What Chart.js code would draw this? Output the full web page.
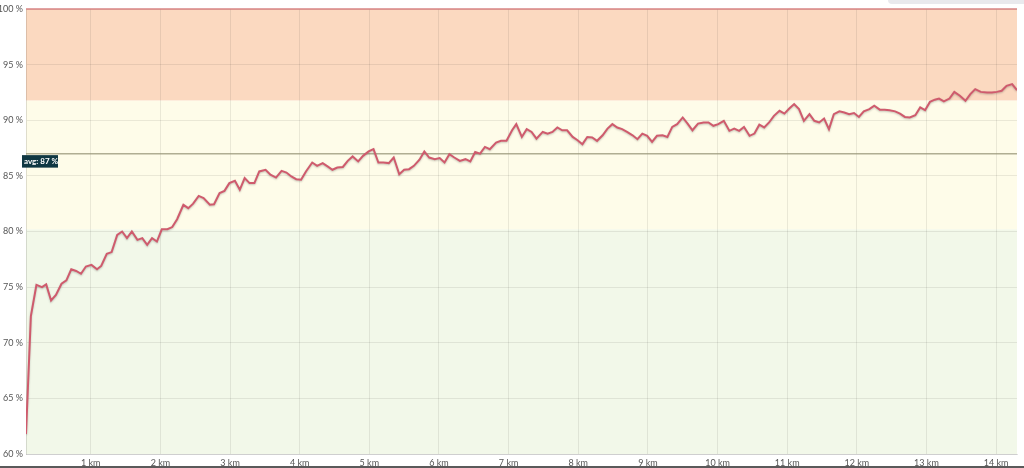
<!DOCTYPE html>
<html>
<head>
<meta charset="utf-8">
<script src="https://cdn.jsdelivr.net/npm/chart.js@4/dist/chart.umd.min.js"></script>
<style>
  html, body { margin: 0; padding: 0; background: #fff; }
  #wrap { position: relative; width: 1024px; height: 468px; }
  #topbar { position: absolute; right: 0; top: 0; width: 136px; height: 4px; background: #e9e9ed; border-bottom-left-radius: 4px; }
</style>
</head>
<body>
<div id="wrap">
  <canvas id="chart"></canvas>
  <div id="topbar"></div>
</div>
<script>
// distance along the route (km) and the value at that point (%)
const distances = [
  0.07, 0.14, 0.22, 0.30, 0.36, 0.43, 0.50, 0.58, 0.65, 0.72, 0.79, 0.86, 0.93, 1.01, 1.09, 1.15, 1.23, 1.30, 1.38, 1.45,
  1.52, 1.59, 1.67, 1.74, 1.81, 1.88, 1.95, 2.02, 2.10, 2.17, 2.24, 2.33, 2.40, 2.47, 2.55, 2.62, 2.71, 2.77, 2.85, 2.92,
  2.99, 3.07, 3.14, 3.21, 3.28, 3.35, 3.42, 3.51, 3.58, 3.66, 3.74, 3.81, 3.88, 3.95, 4.02, 4.09, 4.18, 4.25, 4.33, 4.40,
  4.47, 4.54, 4.62, 4.69, 4.76, 4.84, 4.91, 4.99, 5.06, 5.13, 5.20, 5.28, 5.35, 5.43, 5.50, 5.57, 5.64, 5.72, 5.79, 5.86,
  5.94, 6.01, 6.08, 6.15, 6.22, 6.30, 6.38, 6.45, 6.52, 6.59, 6.66, 6.73, 6.82, 6.89, 6.97, 7.05, 7.11, 7.19, 7.26, 7.33,
  7.40, 7.49, 7.56, 7.63, 7.70, 7.77, 7.84, 7.92, 7.99, 8.06, 8.13, 8.20, 8.27, 8.35, 8.42, 8.49, 8.56, 8.63, 8.70, 8.78,
  8.85, 8.92, 8.99, 9.06, 9.13, 9.21, 9.28, 9.35, 9.42, 9.50, 9.57, 9.64, 9.72, 9.80, 9.87, 9.94, 10.01, 10.09, 10.17, 10.24,
  10.31, 10.38, 10.46, 10.53, 10.60, 10.67, 10.74, 10.81, 10.89, 10.96, 11.03, 11.10, 11.17, 11.24, 11.32, 11.39, 11.46, 11.53, 11.60, 11.67,
  11.75, 11.82, 11.89, 11.96, 12.03, 12.10, 12.18, 12.25, 12.33, 12.40, 12.47, 12.55, 12.62, 12.69, 12.76, 12.84, 12.91, 12.98, 13.05, 13.12,
  13.18, 13.25, 13.33, 13.40, 13.48, 13.56, 13.63, 13.70, 13.78, 13.87, 13.94, 14.01, 14.08, 14.15, 14.23, 14.30
];
const values = [
  61.8, 72.4, 75.2, 75.0, 75.25, 73.8, 74.3, 75.3, 75.6, 76.6, 76.45, 76.2, 76.85, 77.0, 76.6, 76.9, 78.0, 78.15, 79.7, 80.0,
  79.4, 80.0, 79.25, 79.4, 78.8, 79.4, 79.1, 80.2, 80.2, 80.4, 81.1, 82.4, 82.1, 82.5, 83.2, 83.0, 82.4, 82.45, 83.45, 83.65,
  84.35, 84.55, 83.75, 84.8, 84.35, 84.35, 85.4, 85.55, 85.1, 84.85, 85.45, 85.3, 84.95, 84.7, 84.65, 85.4, 86.2, 85.9, 86.15, 85.85,
  85.55, 85.75, 85.8, 86.35, 86.75, 86.3, 86.8, 87.2, 87.4, 86.2, 86.2, 86.15, 86.65, 85.15, 85.55, 85.6, 85.9, 86.45, 87.2, 86.65,
  86.5, 86.6, 86.2, 86.95, 86.65, 86.35, 86.5, 86.3, 87.15, 87.0, 87.6, 87.4, 88.0, 88.15, 88.15, 89.1, 89.65, 88.5, 89.2, 88.95,
  88.35, 88.95, 88.8, 88.95, 89.35, 89.1, 89.1, 88.5, 88.2, 87.85, 88.5, 88.45, 88.15, 88.65, 89.25, 89.65, 89.35, 89.2, 88.95, 88.65,
  88.3, 88.8, 88.6, 88.05, 88.6, 88.65, 88.5, 89.4, 89.65, 90.25, 89.7, 89.1, 89.7, 89.8, 89.8, 89.5, 89.65, 89.95, 89.05, 89.25,
  89.05, 89.4, 88.6, 88.8, 89.6, 89.35, 89.8, 90.4, 90.85, 90.6, 91.05, 91.45, 91.0, 89.95, 90.55, 89.95, 89.8, 90.15, 89.2, 90.55,
  90.8, 90.7, 90.55, 90.65, 90.3, 90.8, 91.0, 91.3, 90.95, 90.95, 90.9, 90.8, 90.6, 90.3, 90.25, 90.45, 91.15, 90.9, 91.65, 91.85,
  91.95, 91.7, 91.95, 92.55, 92.2, 91.75, 92.35, 92.8, 92.55, 92.5, 92.5, 92.55, 92.65, 93.1, 93.25, 92.7
];
const xTicks = [1, 2, 3, 4, 5, 6, 7, 8, 9, 10, 11, 12, 13, 14];
const yTicks = [60, 65, 70, 75, 80, 85, 90, 95, 100];
const zoneLimits = [60, 80.2, 91.78, 100];
const zoneColors = ['#f2f8e9', '#fefce9', '#fbd9c0'];
const avgValue = 87;

const zonesPlugin = {
  id: 'zones',
  beforeDraw(chart) {
    const { ctx, chartArea: a, scales: { y } } = chart;
    ctx.save();
    for (let i = 0; i < zoneColors.length; i++) {
      const top = y.getPixelForValue(zoneLimits[i + 1]);
      const bottom = y.getPixelForValue(zoneLimits[i]);
      ctx.fillStyle = zoneColors[i];
      ctx.fillRect(a.left, top, a.right - a.left, bottom - top);
    }
    ctx.restore();
  },
  beforeDatasetsDraw(chart) {
    const { ctx, chartArea: a, scales: { y } } = chart;
    ctx.save();
    // average line
    const ay = y.getPixelForValue(avgValue);
    ctx.strokeStyle = 'rgba(150,148,118,0.75)';
    ctx.lineWidth = 1.5;
    ctx.beginPath();
    ctx.moveTo(a.left, ay);
    ctx.lineTo(a.right, ay);
    ctx.stroke();
    // top line at 100 %
    const ty = y.getPixelForValue(100);
    ctx.strokeStyle = '#d98585';
    ctx.lineWidth = 1.5;
    ctx.beginPath();
    ctx.moveTo(a.left, ty);
    ctx.lineTo(a.right, ty);
    ctx.stroke();
    ctx.restore();
  },
  beforeDatasetDraw(chart) {
    const ctx = chart.ctx;
    ctx.save();
    ctx.shadowColor = 'rgba(0,0,0,0.22)';
    ctx.shadowBlur = 2;
    ctx.shadowOffsetY = 1;
  },
  afterDatasetDraw(chart) {
    chart.ctx.restore();
  },
  afterDraw(chart) {
    const { ctx, scales: { y } } = chart;
    ctx.save();
    // avg label
    const ay = y.getPixelForValue(avgValue);
    ctx.fillStyle = '#0f3742';
    ctx.fillRect(22, ay + 1.5, 36, 12.5);
    ctx.fillStyle = '#ffffff';
    ctx.font = 'bold 8px Lato';
    ctx.textBaseline = 'middle';
    ctx.textAlign = 'left';
    ctx.fillText('avg: ' + avgValue + ' %', 24, ay + 8);
    // bottom border
    ctx.fillStyle = '#5a5a5a';
    ctx.fillRect(0, chart.height - 2, chart.width, 2);
    ctx.restore();
  }
};

new Chart(document.getElementById('chart'), {
  type: 'line',
  data: {
    datasets: [{
      data: distances.map((d, i) => ({ x: d, y: values[i] })),
      borderColor: '#cf5b6d',
      borderWidth: 2,
      pointRadius: 0,
      tension: 0,
      fill: false
    }]
  },
  options: {
    responsive: true,
    maintainAspectRatio: false,
    animation: false,
    layout: { padding: { top: 9, right: 7, left: 0, bottom: 0 } },
    plugins: { legend: { display: false }, tooltip: { enabled: false } },
    scales: {
      x: {
        type: 'linear',
        min: distances[0],
        max: distances[distances.length - 1],
        afterBuildTicks: (s) => { s.ticks = xTicks.map(v => ({ value: v })); },
        afterFit: (s) => { s.height = 14; },
        grid: { color: 'rgba(0,0,0,0.08)', drawTicks: false },
        border: { color: 'rgba(0,0,0,0.12)' },
        ticks: {
          padding: 4,
          maxRotation: 0,
          autoSkip: false,
          color: '#555',
          font: { family: 'Lato', size: 9 },
          callback: (v) => v + ' km'
        }
      },
      y: {
        min: 60,
        max: 100,
        afterBuildTicks: (s) => { s.ticks = yTicks.map(v => ({ value: v })); },
        afterFit: (s) => { s.width = 26; },
        grid: { color: 'rgba(0,0,0,0.08)', drawTicks: false },
        border: { color: 'rgba(0,0,0,0.12)' },
        ticks: {
          padding: 3,
          color: '#555',
          font: { family: 'Lato', size: 9 },
          callback: (v) => v + ' %'
        }
      }
    }
  },
  plugins: [zonesPlugin]
});
</script>
</body>
</html>
